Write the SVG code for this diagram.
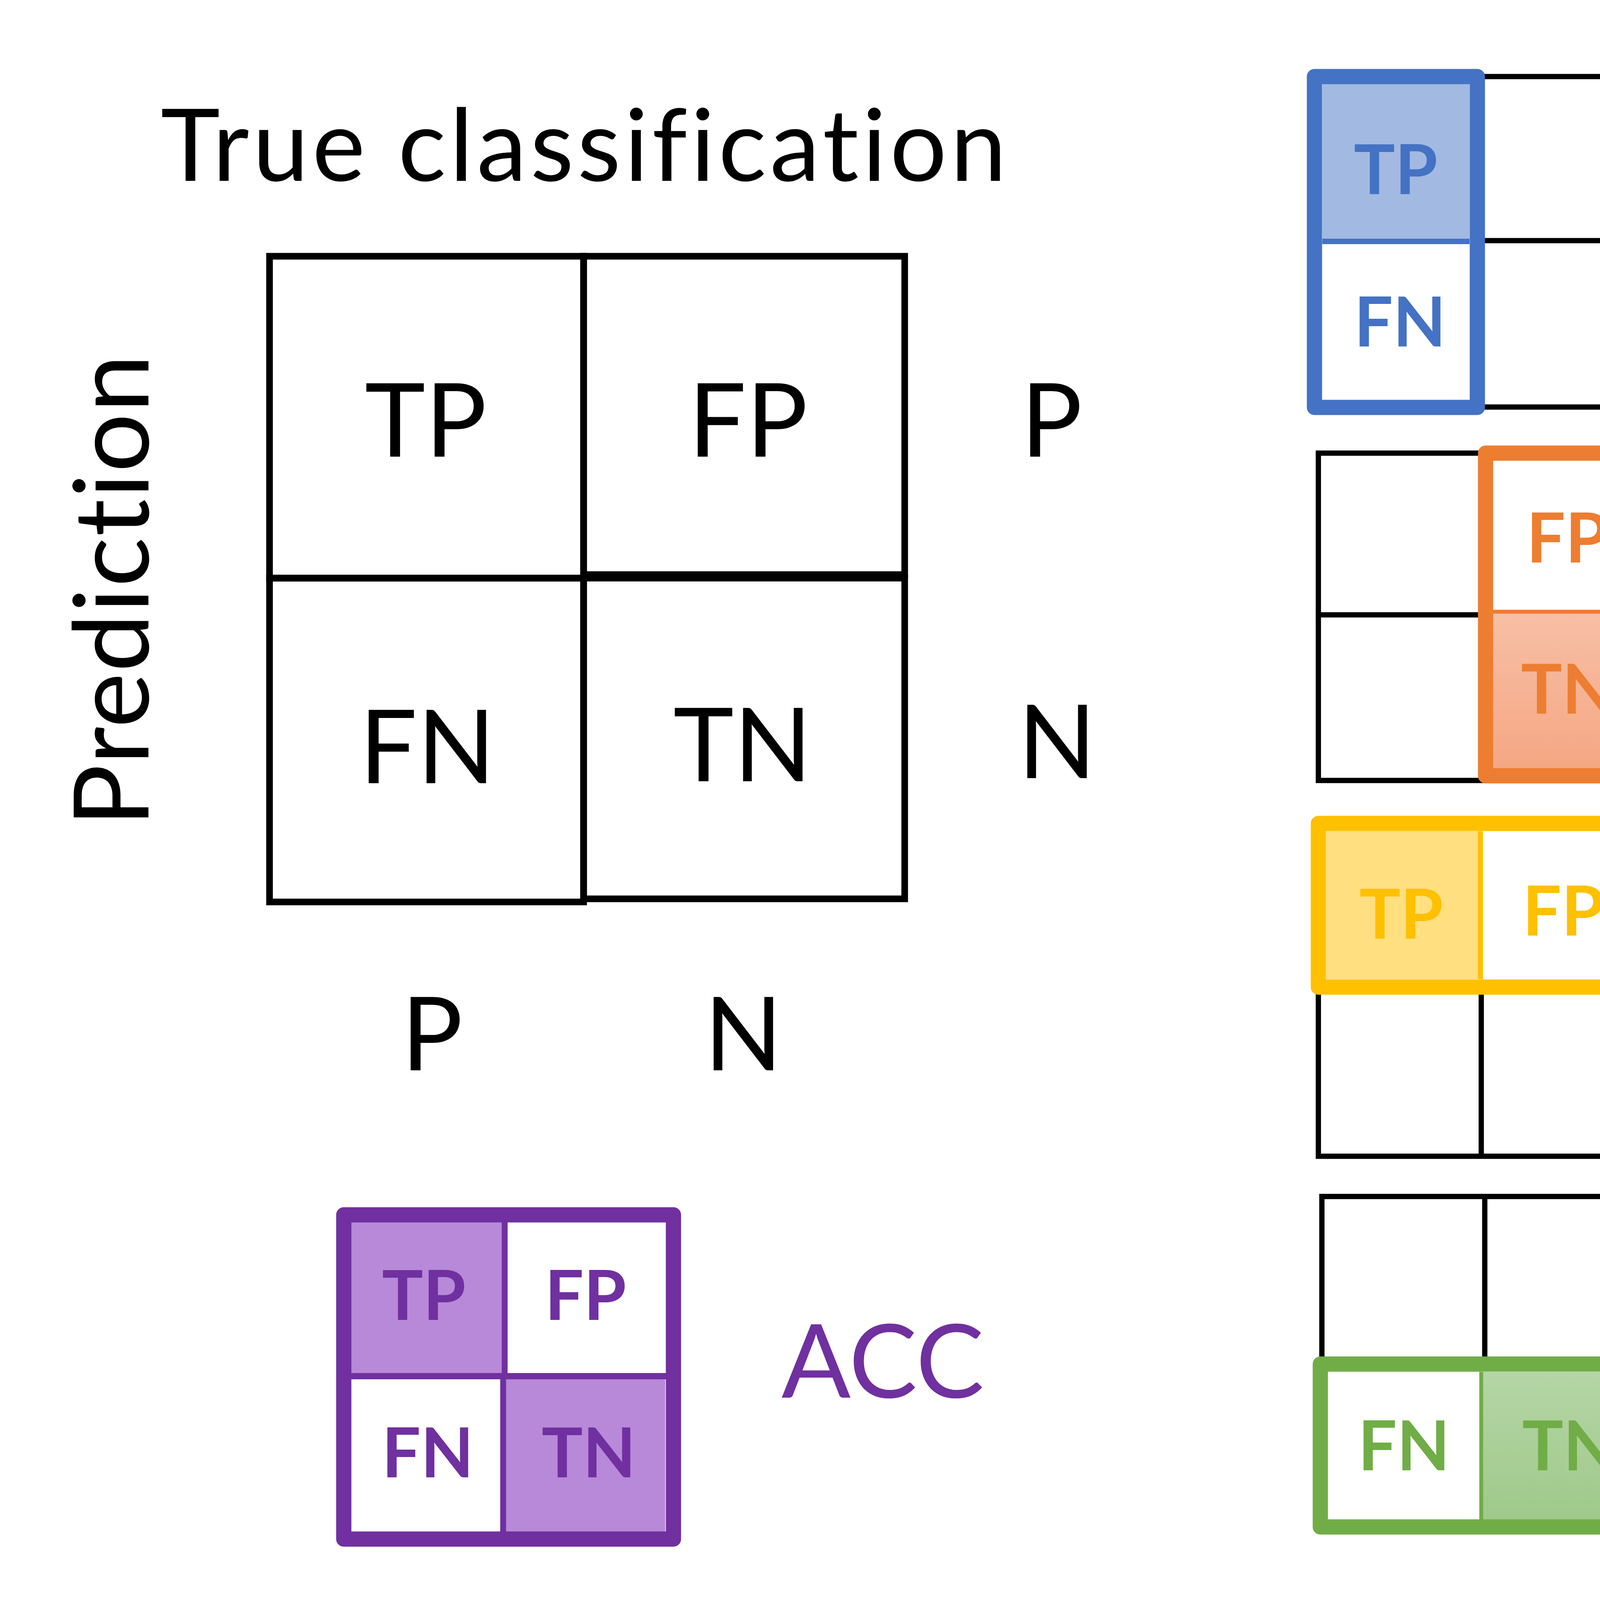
<svg xmlns="http://www.w3.org/2000/svg" width="5295" height="4104" viewBox="0 0 5295 4104">
  <defs>
    <linearGradient id="gOrange" x1="0" y1="0" x2="0" y2="1">
      <stop offset="0" stop-color="#F7BFA6"/>
      <stop offset="1" stop-color="#F5A783"/>
    </linearGradient>
    <linearGradient id="gGreen" x1="0" y1="0" x2="0" y2="1">
      <stop offset="0" stop-color="#B5D5A6"/>
      <stop offset="1" stop-color="#9FC98A"/>
    </linearGradient>
  </defs>
  <style>
    .main { fill: none; stroke: #000; stroke-width: 17; }
    .grid { fill: none; stroke: #000; stroke-width: 13.5; }
    .frame { fill: none; stroke-width: 39; stroke-linejoin: round; }
    .t { font-family: Lato, "Liberation Sans", sans-serif; text-anchor: middle; font-variant-ligatures: none; font-feature-settings: "liga" 0, "clig" 0, "dlig" 0; }
    .big { font-size: 262px; }
    .cell { font-size: 176px; font-weight: bold; }
    .blue { fill: #4472C4; } .sblue { stroke: #4472C4; }
    .orange { fill: #ED7D31; } .sorange { stroke: #ED7D31; }
    .yellow { fill: #FFC000; } .syellow { stroke: #FFC000; }
    .green { fill: #70AD47; } .sgreen { stroke: #70AD47; }
    .purple { fill: #7030A0; } .spurple { stroke: #7030A0; }
  </style>
  <rect width="5295" height="4104" fill="#fff"/>

  <g id="connectors"/>

  <g id="main-matrix">
    <text class="t" x="1494" y="463" font-size="257" textLength="2165" lengthAdjust="spacing">True classification</text>
    <text class="t" x="380" y="1512" font-size="267" textLength="1210" lengthAdjust="spacing" transform="rotate(-90 380 1512)">Prediction</text>
    <rect class="main" x="690" y="656" width="804" height="824"/>
    <rect class="main" x="1494" y="656" width="822" height="815"/>
    <rect class="main" x="690" y="1480" width="804" height="829"/>
    <rect class="main" x="1494" y="1480" width="822" height="821"/>
    <text class="t big" x="1090" y="1169">TP</text>
    <text class="t big" x="1915" y="1169">FP</text>
    <text class="t big" x="1094" y="2005">FN</text>
    <text class="t big" x="1901" y="2000">TN</text>
    <text class="t big" x="2692" y="1169">P</text>
    <text class="t big" x="2706" y="1992">N</text>
    <text class="t big" x="1106" y="2740">P</text>
    <text class="t big" x="1903" y="2740">N</text>
  </g>

  <g id="sen">
    <rect x="3385" y="215" width="377" height="396" fill="#A2B9E1"/>
    <rect class="grid" x="3782" y="196" width="431" height="846"/>
    <line class="grid" x1="3782" y1="616" x2="4213" y2="616"/>
    <rect class="frame sblue" x="3365" y="196" width="417" height="847"/>
    <line x1="3385" y1="618" x2="3762" y2="618" stroke="#4472C4" stroke-width="14"/>
    <text class="t cell blue" x="3573" y="497">TP</text>
    <text class="t cell blue" x="3584" y="887">FN</text>
    <text class="t big blue" x="4848" y="709">SEN</text>
  </g>

  <g id="spe">
    <rect x="3822" y="1571" width="380" height="396" fill="url(#gOrange)"/>
    <rect class="grid" x="3375" y="1160" width="428" height="838"/>
    <line class="grid" x1="3375" y1="1574" x2="3803" y2="1574"/>
    <rect class="frame sorange" x="3803" y="1160" width="419" height="826"/>
    <line x1="3822" y1="1566" x2="4202" y2="1566" stroke="#ED7D31" stroke-width="10"/>
    <text class="t cell orange" x="4012" y="1440">FP</text>
    <text class="t cell orange" x="4014" y="1827">TN</text>
    <text class="t big orange" x="4831" y="1671">SPE</text>
  </g>

  <g id="ppv">
    <rect x="3395" y="2128" width="390" height="379" fill="#FFDF80"/>
    <rect class="grid" x="3375" y="2527" width="835" height="433"/>
    <line class="grid" x1="3792" y1="2527" x2="3792" y2="2960"/>
    <rect class="frame syellow" x="3375" y="2108" width="844" height="419"/>
    <line x1="3790" y1="2128" x2="3790" y2="2507" stroke="#FFC000" stroke-width="13"/>
    <text class="t cell yellow" x="3587" y="2403">TP</text>
    <text class="t cell yellow" x="4002" y="2395">FP</text>
    <text class="t big yellow" x="4863" y="2620">PPV</text>
  </g>

  <g id="npv">
    <rect x="3797" y="3512" width="412" height="378" fill="url(#gGreen)"/>
    <rect class="grid" x="3384" y="3063" width="837" height="429"/>
    <line class="grid" x1="3801" y1="3063" x2="3801" y2="3492"/>
    <rect class="frame sgreen" x="3380" y="3492" width="848" height="417"/>
    <line x1="3792" y1="3512" x2="3792" y2="3890" stroke="#70AD47" stroke-width="10"/>
    <text class="t cell green" x="3594" y="3764">FN</text>
    <text class="t cell green" x="4017" y="3764">TN</text>
    <text class="t big green" x="4881" y="3582">NPV</text>
  </g>

  <g id="acc">
    <rect x="899" y="3129" width="389" height="394" fill="#B789D8"/>
    <rect x="1288" y="3523" width="415" height="398" fill="#B789D8"/>
    <rect class="frame spurple" x="880" y="3110" width="844" height="830"/>
    <line x1="1292" y1="3129" x2="1292" y2="3523" stroke="#7030A0" stroke-width="15"/>
    <line x1="1288" y1="3523" x2="1288" y2="3921" stroke="#7030A0" stroke-width="15"/>
    <line x1="899" y1="3523" x2="1705" y2="3523" stroke="#7030A0" stroke-width="16"/>
    <text class="t cell purple" x="1085" y="3379">TP</text>
    <text class="t cell purple" x="1499" y="3379">FP</text>
    <text class="t cell purple" x="1095" y="3782">FN</text>
    <text class="t cell purple" x="1507" y="3782">TN</text>
    <text class="t big purple" x="2260" y="3578">ACC</text>
  </g>
</svg>
